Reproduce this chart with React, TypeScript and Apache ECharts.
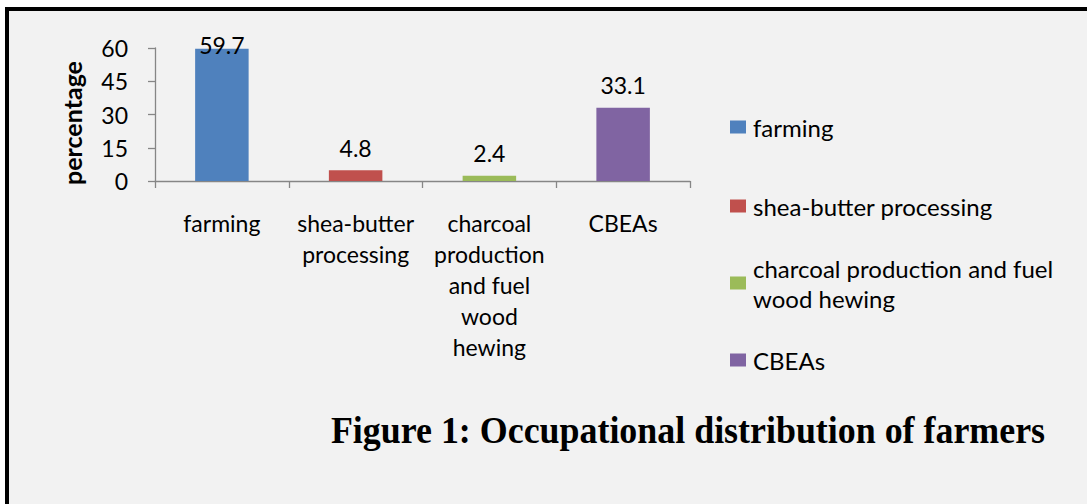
import React, { useEffect, useRef } from 'react';
import * as echarts from 'echarts';

const categories = ['farming', 'shea-butter processing', 'charcoal production and fuel wood hewing', 'CBEAs'];
const xTickLabels = ['farming', 'shea-butter\nprocessing', 'charcoal\nproduction\nand fuel\nwood\nhewing', 'CBEAs'];
const legendLabels = ['farming', 'shea-butter processing', 'charcoal production and fuel\nwood hewing', 'CBEAs'];
const values = [59.7, 4.8, 2.4, 33.1];
const colors = ['#4F81BD', '#C0504D', '#9BBB59', '#8064A2'];
const yMin = 0;
const yMax = 60;
const yStep = 15;
const yTitle = 'percentage';
const figureTitle = 'Figure 1: Occupational distribution of farmers';

const FONT = 'Lato';
const legendCenters = [127, 206, 283, 360];

export default function App() {
  const ref = useRef<HTMLDivElement>(null);
  useEffect(() => {
    if (!ref.current) return;
    const chart = echarts.init(ref.current, undefined, { renderer: 'svg' });
    const series = categories.map((name, i) => ({
      name,
      type: 'bar',
      stack: 'all',
      barWidth: '40%',
      itemStyle: { color: colors[i] },
      label: {
        show: true,
        position: 'top',
        distance: 11,
        fontFamily: FONT,
        fontSize: 23,
        color: '#000',
      },
      data: categories.map((_, j) =>
        j === i
          ? j === 0
            ? { value: values[j], label: { distance: -8 } }
            : values[j]
          : '-'
      ),
    }));
    const legends = categories.map((name, i) => {
      const multi = legendLabels[i].includes('\n');
      return {
        data: [name],
        orient: 'vertical',
        left: 730,
        top: legendCenters[i] - (multi ? 45 : 15),
        padding: 0,
        itemWidth: 16,
        itemHeight: 13,
        itemGap: 0,
        icon: 'rect',
        formatter: () => legendLabels[i],
        textStyle: {
          fontFamily: FONT,
          fontSize: 24,
          color: '#000',
          lineHeight: 30,
          padding: multi ? [30, 0, 0, 2] : [0, 0, 0, 2],
        },
      };
    });
    chart.setOption({
      animation: false,
      backgroundColor: 'transparent',
      grid: { left: 155, right: 397, top: 48, bottom: 323, containLabel: false },
      xAxis: {
        type: 'category',
        data: xTickLabels,
        axisLine: { lineStyle: { color: '#868686', width: 1.3 } },
        axisTick: { show: true, length: 7, lineStyle: { color: '#868686', width: 1.3 } },
        axisLabel: {
          interval: 0,
          fontFamily: FONT,
          fontSize: 23,
          lineHeight: 31,
          color: '#000',
          margin: 26,
        },
      },
      yAxis: {
        type: 'value',
        min: yMin,
        max: yMax,
        interval: yStep,
        splitLine: { show: false },
        axisLine: { show: true, lineStyle: { color: '#868686', width: 1.3 } },
        axisTick: { show: true, length: 7, lineStyle: { color: '#868686', width: 1.3 } },
        axisLabel: { fontFamily: FONT, fontSize: 23, color: '#000', margin: 27 },
      },
      legend: legends,
      graphic: [
        {
          type: 'text',
          x: 72,
          y: 123,
          rotation: Math.PI / 2,
          style: {
            text: yTitle,
            font: `bold 25px ${FONT}`,
            fill: '#000',
            align: 'center',
            verticalAlign: 'middle',
          },
        },
        {
          type: 'text',
          x: 688,
          y: 430,
          scaleX: 0.945,
          style: {
            text: figureTitle,
            font: 'bold 38px "Liberation Serif"',
            fill: '#000',
            align: 'center',
            verticalAlign: 'middle',
          },
        },
      ],
      series,
    });
    return () => chart.dispose();
  }, []);
  return (
    <div style={{ position: 'fixed', left: 0, top: 0, width: 1087, height: 504, background: '#fff' }}>
      <div
        style={{
          position: 'absolute',
          left: 5,
          top: 7,
          right: 0,
          bottom: 0,
          borderTop: '4px solid #000',
          borderLeft: '4px solid #000',
          background: '#f2f2f2',
        }}
      />
      <div ref={ref} style={{ position: 'absolute', left: 0, top: 0, width: 1087, height: 504 }} />
    </div>
  );
}
